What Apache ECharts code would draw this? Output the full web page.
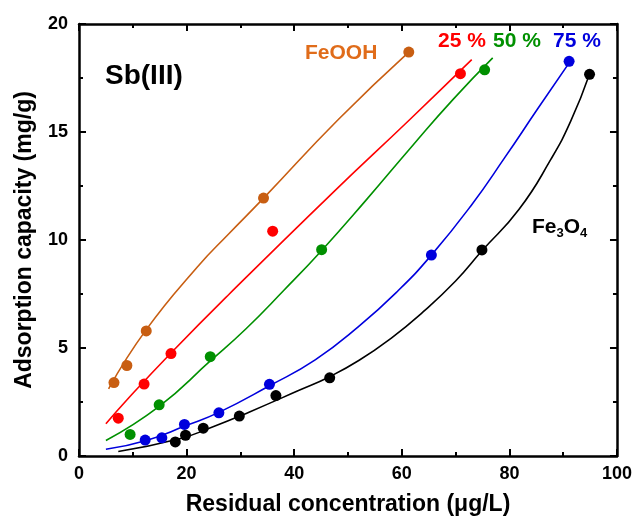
<!DOCTYPE html>
<html>
<head>
<meta charset="utf-8">
<script src="https://cdn.jsdelivr.net/npm/echarts@6/dist/echarts.min.js"></script>
<style>
  html, body { margin: 0; padding: 0; background: #fff; }
  #isoChart { width: 635px; height: 521px; }
</style>
</head>
<body>
<div id="isoChart"></div>
<script>
// measured points [Ce, qe]
const feoohPts = [[6.5, 3.40], [8.9, 4.19], [12.5, 5.79], [34.3, 11.94], [61.3, 18.70]]
const p25Pts = [[7.3, 1.75], [12.1, 3.33], [17.1, 4.74], [36.0, 10.41], [70.9, 17.70]]
const p50Pts = [[9.5, 1.0], [14.9, 2.37], [24.4, 4.60], [45.1, 9.55], [75.4, 17.88]]
const p75Pts = [[12.3, 0.74], [15.4, 0.84], [19.6, 1.46], [26.0, 2.0], [35.4, 3.32], [65.5, 9.30], [91.1, 18.27]]
const fe3o4Pts = [[17.9, 0.65], [19.8, 0.96], [23.1, 1.29], [29.8, 1.85], [36.6, 2.80], [46.6, 3.62], [74.9, 9.54], [94.9, 17.67]]

// fitted curves
const feoohFit = [[5.5, 3.11], [12.5, 5.85], [22.0, 8.75], [27.9, 10.3], [34.4, 11.96], [48.2, 15.58], [61.3, 18.70]]
const p25Fit = [[5.0, 1.49], [9.1, 2.65], [17.1, 4.77], [27.9, 7.49], [47.0, 12.15], [61.5, 15.58], [73.0, 18.35]]
const p50Fit = [[5.0, 0.72], [14.9, 2.3], [24.4, 4.4], [31.0, 5.88], [38.0, 7.65], [45.2, 9.54], [53.2, 11.8], [62.1, 14.4], [69.5, 16.5], [76.9, 18.43]]
const p75Fit = [[5.0, 0.31], [12.5, 0.72], [19.9, 1.41], [26.1, 2.03], [35.4, 3.25], [43.9, 4.45], [52.0, 6.0], [59.3, 7.65], [65.5, 9.3], [72.9, 11.6], [79.1, 13.8], [85.2, 16.05], [91.3, 18.27]]
const fe3o4Fit = [[7.3, 0.21], [18.7, 0.80], [24.8, 1.34], [31.6, 2.03], [40.8, 3.03], [46.4, 3.65], [52.0, 4.42], [58.0, 5.45], [64.0, 6.68], [70.0, 8.1], [74.9, 9.5], [81.8, 11.42], [87.7, 13.73], [91.4, 15.5], [94.9, 17.69]]

const xTicks = [0, 20, 40, 60, 80, 100]
const yTicks = [0, 5, 10, 15, 20]

const font = 'Arial, "Liberation Sans", sans-serif'
const colors = {
  feooh: '#C85E12',
  p25: '#FF0000',
  p50: '#009000',
  p75: '#0000DD',
  fe3o4: '#000000'
}

function fitLine(data, color) {
  return {
    type: 'line',
    data: data,
    smooth: 0.5,
    showSymbol: false,
    silent: true,
    lineStyle: { color: color, width: 1.6 },
    z: 2
  }
}
function dots(data, color) {
  return {
    type: 'scatter',
    data: data,
    symbol: 'circle',
    symbolSize: 11,
    itemStyle: { color: color, opacity: 1 },
    z: 3
  }
}

const axisCommon = {
  axisLine: { show: true, onZero: false, lineStyle: { color: '#000', width: 2.5 } },
  axisTick: { show: true, inside: true, length: 7, lineStyle: { color: '#000', width: 2 } },
  minorTick: { show: true, splitNumber: 2, length: 4, lineStyle: { color: '#000', width: 2 } },
  splitLine: { show: false }
}

const chart = echarts.init(document.getElementById('isoChart'))
const option = {
  animation: false,
  backgroundColor: '#fff',
  grid: { left: 79, right: 14, top: 24, bottom: 64 },
  xAxis: [
    Object.assign({}, axisCommon, {
      type: 'value',
      min: xTicks[0],
      max: xTicks[xTicks.length - 1],
      interval: 20,
      position: 'bottom',
      name: 'Residual concentration (\u03bcg/L)',
      nameLocation: 'middle',
      nameGap: 37,
      nameTextStyle: { fontFamily: font, fontWeight: 'bold', fontSize: 23, color: '#000' },
      axisLabel: { fontFamily: font, fontWeight: 'bold', fontSize: 18, color: '#000', margin: 9 }
    }),
    Object.assign({}, axisCommon, {
      type: 'value',
      min: xTicks[0],
      max: xTicks[xTicks.length - 1],
      interval: 20,
      position: 'top',
      axisLabel: { show: false }
    })
  ],
  yAxis: [
    Object.assign({}, axisCommon, {
      type: 'value',
      min: yTicks[0],
      max: yTicks[yTicks.length - 1],
      interval: 5,
      position: 'left',
      name: 'Adsorption capacity (mg/g)',
      nameLocation: 'middle',
      nameGap: 43,
      nameTextStyle: { fontFamily: font, fontWeight: 'bold', fontSize: 23, color: '#000' },
      axisLabel: { fontFamily: font, fontWeight: 'bold', fontSize: 18, color: '#000', margin: 11 }
    }),
    Object.assign({}, axisCommon, {
      type: 'value',
      min: yTicks[0],
      max: yTicks[yTicks.length - 1],
      interval: 5,
      position: 'right',
      axisLabel: { show: false }
    })
  ],
  series: [
    fitLine(feoohFit, colors.feooh),
    fitLine(p25Fit, colors.p25),
    fitLine(p50Fit, colors.p50),
    fitLine(p75Fit, colors.p75),
    fitLine(fe3o4Fit, colors.fe3o4),
    dots(feoohPts, colors.feooh),
    dots(p25Pts, colors.p25),
    dots(p50Pts, colors.p50),
    dots(p75Pts, colors.p75),
    dots(fe3o4Pts, colors.fe3o4)
  ],
  graphic: [
    {
      type: 'text', left: 105, top: 62,
      style: { text: 'Sb(III)', fontFamily: font, fontWeight: 'bold', fontSize: 28, fill: '#000' }
    },
    {
      type: 'text', left: 305, top: 43,
      style: { text: 'FeOOH', fontFamily: font, fontWeight: 'bold', fontSize: 21, fill: '#E06C1A' }
    },
    {
      type: 'text', left: 438, top: 31,
      style: { text: '25 %', fontFamily: font, fontWeight: 'bold', fontSize: 21, fill: colors.p25 }
    },
    {
      type: 'text', left: 493, top: 31,
      style: { text: '50 %', fontFamily: font, fontWeight: 'bold', fontSize: 21, fill: colors.p50 }
    },
    {
      type: 'text', left: 553, top: 31,
      style: { text: '75 %', fontFamily: font, fontWeight: 'bold', fontSize: 21, fill: colors.p75 }
    },
    {
      type: 'text', left: 532, top: 217,
      style: {
        text: 'Fe{s|3}O{s|4}',
        fontFamily: font, fontWeight: 'bold', fontSize: 21, fill: '#000',
        rich: {
          s: { fontFamily: font, fontWeight: 'bold', fontSize: 13, fill: '#000', padding: [12, 0, 0, 0] }
        }
      }
    }
  ]
}
option && chart.setOption(option)
</script>
</body>
</html>
